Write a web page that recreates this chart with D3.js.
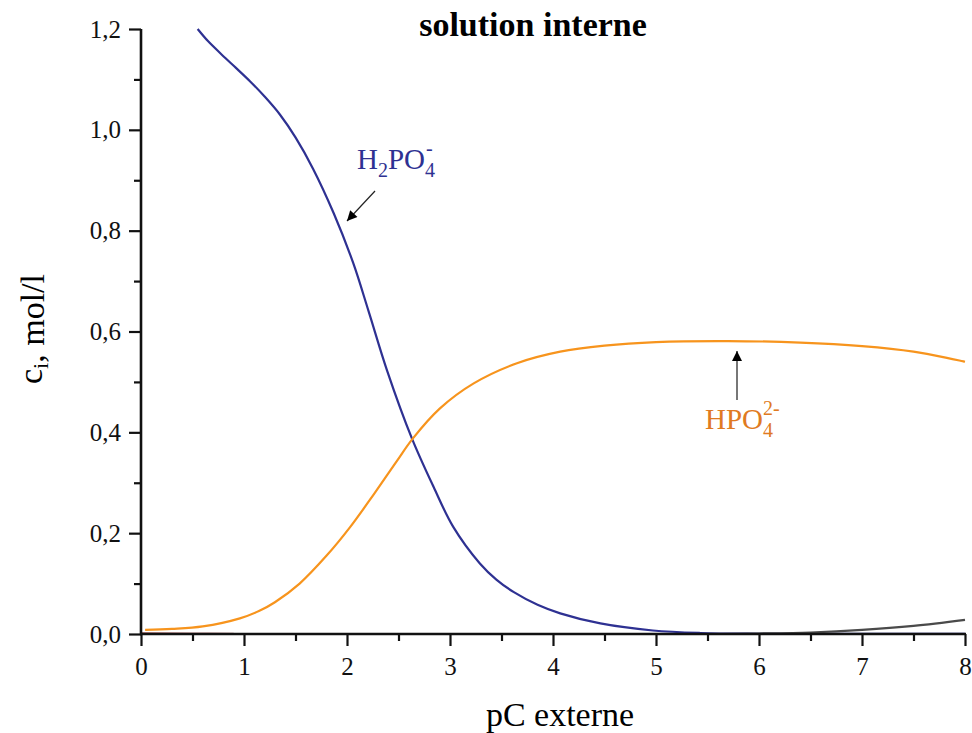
<!DOCTYPE html>
<html><head><meta charset="utf-8">
<script src="https://cdn.jsdelivr.net/npm/d3@7"></script>
<style>
body{margin:0;background:#fff;}
text{font-family:"Liberation Serif","Times New Roman",serif;}
</style></head>
<body><svg id="c" width="972" height="733"></svg>
<script>
// Data
const xTicks = [0,1,2,3,4,5,6,7,8];
const yTicks = [0,0.2,0.4,0.6,0.8,1.0,1.2];
const h2po4X = [0.55,0.65,0.77,0.9,1.06,1.2,1.35,1.5,1.67,1.87,2.06,2.21,2.39,2.63,2.84,3.03,3.29,3.45,3.62,3.85,4.07,4.46,4.97,5.43,6,7,8];
const h2po4Y = [1.200,1.176,1.152,1.127,1.096,1.066,1.030,0.985,0.923,0.835,0.736,0.640,0.522,0.388,0.292,0.213,0.140,0.108,0.083,0.058,0.041,0.021,0.007,0.002,0.0005,0.0003,0.0002];
const hpo4X = [0.04,0.3,0.6,0.96,1.15,1.3,1.54,1.8,2.03,2.26,2.48,2.64,2.9,3.23,3.65,4.07,4.5,5,5.7,6.4,7,7.5,8];
const hpo4Y = [0.008,0.010,0.015,0.031,0.046,0.063,0.100,0.155,0.212,0.277,0.342,0.388,0.447,0.497,0.537,0.560,0.572,0.579,0.581,0.578,0.571,0.560,0.540];
const po4X = [5.5,6,6.5,7,7.5,8];
const po4Y = [0.0,0.001,0.003,0.008,0.016,0.028];
const h3po4X = [0,0.5,0.9];
const h3po4Y = [0.002,0.001,0.0005];

const svg = d3.select("#c");
const x = d3.scaleLinear().domain([0,8]).range([141,965]);
const y = d3.scaleLinear().domain([0,1.2]).range([634,29]);
const fmt = d => d3.format(".1f")(d).replace(".", ",");

const xAxis = svg.append("g").attr("transform","translate(0,634)");
xAxis.append("g").call(d3.axisBottom(x).tickValues(d3.range(0.5,8,1)).tickSize(7).tickFormat(""))
  .call(g=>g.select(".domain").remove());
xAxis.append("g").call(d3.axisBottom(x).tickValues(xTicks).tickSize(12).tickPadding(11).tickFormat(d3.format("d")))
  .call(g=>g.select(".domain").remove());
const yAxis = svg.append("g").attr("transform","translate(141,0)");
yAxis.append("g").call(d3.axisLeft(y).tickValues(d3.range(0.1,1.2,0.2)).tickSize(7).tickFormat(""))
  .call(g=>g.select(".domain").remove());
yAxis.append("g").call(d3.axisLeft(y).tickValues(yTicks).tickSize(12).tickPadding(8).tickFormat(fmt))
  .call(g=>g.select(".domain").remove());
svg.selectAll(".tick line").attr("stroke","#111").attr("stroke-width",2.2);
svg.selectAll(".tick text").attr("font-family","Liberation Serif").attr("font-size",25).attr("fill","#111");

const line = d3.line().x(d=>x(d[0])).y(d=>y(d[1])).curve(d3.curveCatmullRom.alpha(0.5));
const zip = (a,b)=>a.map((v,i)=>[v,b[i]]);
svg.append("path").datum(zip(h3po4X,h3po4Y)).attr("d",line).attr("fill","none").attr("stroke","#a05050").attr("stroke-width",2.2).attr("opacity",0.7);
svg.append("path").datum(zip(h2po4X,h2po4Y)).attr("d",line).attr("fill","none").attr("stroke","#2e3192").attr("stroke-width",2.2);
svg.append("path").datum(zip(po4X,po4Y)).attr("d",line).attr("fill","none").attr("stroke","#4a4a4a").attr("stroke-width",2.2);
svg.append("path").datum(zip(hpo4X,hpo4Y)).attr("d",line).attr("fill","none").attr("stroke","#f7941d").attr("stroke-width",2.2);

svg.append("line").attr("x1",141).attr("x2",141).attr("y1",29).attr("y2",635).attr("stroke","#111").attr("stroke-width",2.6);
svg.append("line").attr("x1",140).attr("x2",966).attr("y1",634).attr("y2",634).attr("stroke","#111").attr("stroke-width",2.6);

svg.append("text").attr("x",533).attr("y",36).attr("text-anchor","middle").attr("font-size",34).attr("font-weight","bold").text("solution interne");
svg.append("text").attr("x",560).attr("y",726).attr("text-anchor","middle").attr("font-size",34).text("pC externe");
const yl = svg.append("text").attr("transform","translate(42,329) rotate(-90)").attr("text-anchor","middle").attr("font-size",34);
yl.append("tspan").text("c");
yl.append("tspan").attr("font-size",22).attr("dy",6).text("i");
yl.append("tspan").attr("dy",-4).text(", mol/l");

const defs = svg.append("defs");
defs.append("marker").attr("id","ah").attr("viewBox","0 0 10 10").attr("refX",10).attr("refY",5)
  .attr("markerWidth",16).attr("markerHeight",10).attr("markerUnits","userSpaceOnUse").attr("orient","auto")
  .append("path").attr("d","M0,0 L10,5 L0,10 Z").attr("fill","#000");
svg.append("line").attr("x1",375).attr("y1",191).attr("x2",347).attr("y2",221).attr("stroke","#222").attr("stroke-width",1.2).attr("marker-end","url(#ah)");
svg.append("line").attr("x1",737).attr("y1",400).attr("x2",737).attr("y2",351).attr("stroke","#555").attr("stroke-width",1.6).attr("marker-end","url(#ah)");

const t1 = svg.append("text").attr("x",357).attr("y",169).attr("font-size",29).attr("fill","#2e3192");
t1.append("tspan").text("H");
t1.append("tspan").attr("font-size",20).attr("dy",8).text("2");
t1.append("tspan").attr("dy",-8).text("PO");
t1.append("tspan").attr("font-size",20).attr("dy",8).text("4");
t1.append("tspan").attr("font-size",20).attr("dx",-9).attr("dy",-22).text("-");

const t2 = svg.append("text").attr("x",705).attr("y",429).attr("font-size",29).attr("fill","#e07a22");
t2.append("tspan").text("HPO");
t2.append("tspan").attr("font-size",20).attr("dy",8).text("4");
t2.append("tspan").attr("font-size",20).attr("dx",-10).attr("dy",-22).text("2-");
</script></body></html>
